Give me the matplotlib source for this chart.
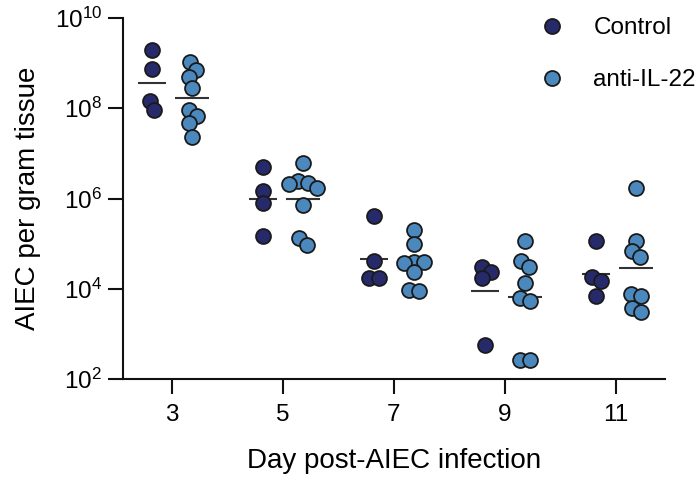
import numpy as np
import matplotlib
matplotlib.use("Agg")
import matplotlib.pyplot as plt
from matplotlib.ticker import FixedLocator, FuncFormatter, NullLocator
from matplotlib.lines import Line2D

plt.rcParams['font.family'] = ['Liberation Sans', 'DejaVu Sans']
plt.rcParams['mathtext.fontset'] = 'custom'
plt.rcParams['mathtext.rm'] = 'Liberation Sans'
plt.rcParams['mathtext.default'] = 'regular'

# ---- data ----
days = ['3', '5', '7', '9', '11']
control = [
    [1.95e9, 7.4e8, 1.43e8, 9.0e7],
    [5.1e6, 1.45e6, 8.0e5, 1.48e5],
    [4.05e5, 4.05e4, 1.7e4, 1.7e4],
    [2.97e4, 2.3e4, 1.73e4, 5.6e2],
    [1.17e5, 1.78e4, 1.45e4, 6.98e3],
]
anti_il22 = [
    [1.05e9, 7.0e8, 4.9e8, 2.8e8, 9.0e7, 6.6e7, 4.6e7, 2.27e7],
    [6.1e6, 2.5e6, 2.15e6, 2.05e6, 1.67e6, 7.0e5, 1.3e5, 9.4e4],
    [2.0e5, 1.0e5, 4.0e4, 4.0e4, 3.65e4, 2.4e4, 9.4e3, 9.0e3],
    [1.12e5, 4.05e4, 3.1e4, 1.34e4, 6.1e3, 5.4e3, 2.6e2, 2.6e2],
    [1.73e6, 1.17e5, 6.7e4, 5.1e4, 7.6e3, 7.0e3, 3.8e3, 3.1e3],
]
series_names = ['Control', 'anti-IL-22']
yticks = [1e2, 1e4, 1e6, 1e8, 1e10]

# ---- style ----
colors = ['#262a6b', '#4a88bd']
edge = '#1a1a1a'
W, H = 699, 484
fig = plt.figure(figsize=(W / 100, H / 100), dpi=100)
ax = fig.add_axes([123 / W, 1 - 379 / H, (665 - 123) / W, (379 - 18) / H])
ax.set_yscale('log')
ax.set_ylim(1e2, 1e10)
ax.set_xlim(-0.44, 4.44)

ax_w_px = (665 - 123)
ax_h_px = (379 - 18)
px_per_unit = ax_w_px / (4.44 + 0.44)

def y_to_px(v):
    return (np.log10(v) - 2) / 8 * ax_h_px

def swarm(vals, d=10.0):
    ypx = y_to_px(np.asarray(vals, float))
    n = len(ypx)
    order = np.argsort(-ypx)
    xs = np.full(n, np.nan)
    placed = []
    for i in order:
        cands = [0.0]
        for j in placed:
            dy = abs(ypx[i] - ypx[j])
            if dy < d:
                dx = np.sqrt(d * d - dy * dy)
                cands += [xs[j] + dx, xs[j] - dx]
        cands = sorted(cands, key=lambda c: (abs(c), -c))
        for c in cands:
            ok = True
            for j in placed:
                if (c - xs[j]) ** 2 + (ypx[i] - ypx[j]) ** 2 < d * d - 1e-6:
                    ok = False
                    break
            if ok:
                xs[i] = c
                break
        placed.append(i)
    srt = np.argsort(-ypx)
    chains, cur = [], [srt[0]]
    for a, b in zip(srt[:-1], srt[1:]):
        if abs(ypx[a] - ypx[b]) < d:
            cur.append(b)
        else:
            chains.append(cur)
            cur = [b]
    chains.append(cur)
    for ch in chains:
        if len(ch) > 1:
            xs[ch] -= xs[ch].mean()
    return xs / px_per_unit

group_off = 20 / px_per_unit
half_w = [14 / px_per_unit, 17 / px_per_unit]
for k, data in enumerate([control, anti_il22]):
    sign = -1 if k == 0 else 1
    for i, vals in enumerate(data):
        cx = i + sign * group_off
        xs = cx + swarm(vals)
        ax.scatter(xs, vals, s=115, color=colors[k], edgecolors=edge,
                   linewidths=1.3, zorder=3, clip_on=False)
        gm = 10 ** np.mean(np.log10(vals))
        ax.plot([cx - half_w[k], cx + half_w[k]], [gm, gm], color='#333333',
                lw=1.5, zorder=2, solid_capstyle='butt')

for s in ['top', 'right']:
    ax.spines[s].set_visible(False)
for s in ['left', 'bottom']:
    ax.spines[s].set_linewidth(1.5)
    ax.spines[s].set_color('#111111')

ax.set_xticks(range(len(days)))
ax.set_xticklabels(days)
ax.yaxis.set_major_locator(FixedLocator(yticks))
ax.yaxis.set_minor_locator(NullLocator())
ax.yaxis.set_major_formatter(FuncFormatter(lambda v, p: r'$10^{%d}$' % round(np.log10(v))))
ax.tick_params(axis='both', length=11, width=1.5, color='#111111', labelsize=17.5)
ax.tick_params(axis='x', pad=7)
ax.tick_params(axis='y', pad=4)

ax.set_xlabel('Day post-AIEC infection', fontsize=20, labelpad=16)
ax.set_ylabel('AIEC per gram tissue', fontsize=20, labelpad=10)

handles = [Line2D([], [], ls='none', marker='o', markersize=10.8,
                  markerfacecolor=c, markeredgecolor=edge, markeredgewidth=1.3)
           for c in colors]
leg = ax.legend(handles, series_names, loc='upper left', frameon=False,
                fontsize=17.5, handlelength=1.0, handletextpad=1.2,
                labelspacing=1.25, borderpad=0, borderaxespad=0,
                bbox_to_anchor=(540 / W, 1 - 17 / H), bbox_transform=fig.transFigure)

fig.savefig('out.png', dpi=100)
